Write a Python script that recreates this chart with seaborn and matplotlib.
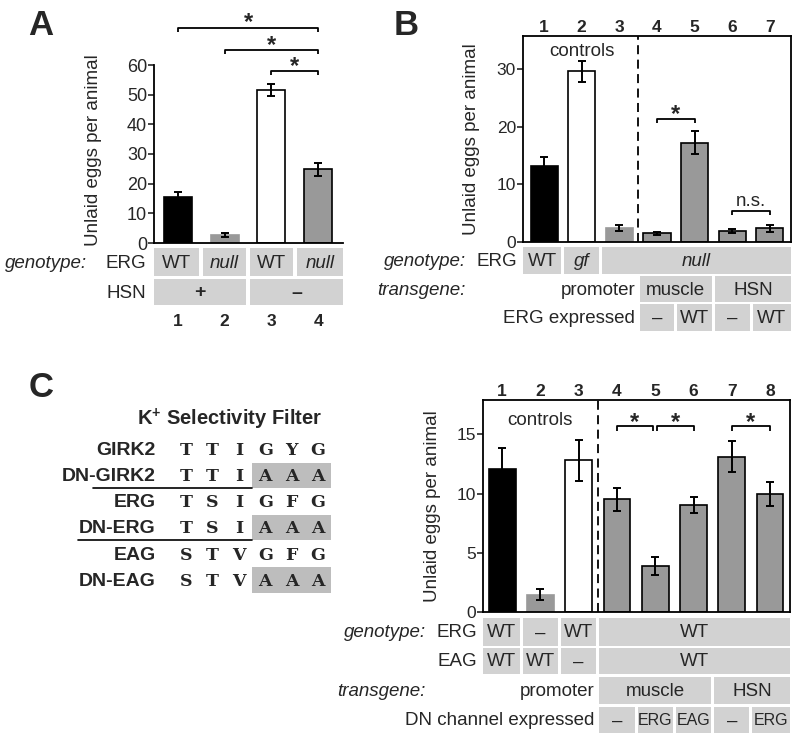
import matplotlib
matplotlib.use("Agg")
import matplotlib.pyplot as plt
import seaborn as sns
import numpy as np
import pandas as pd
from matplotlib.patches import Rectangle

# ---------------- data ----------------
A_labels = ["1", "2", "3", "4"]
A_values = [15.6, 2.7, 51.5, 24.8]
A_errors = [1.6, 0.6, 2.1, 2.3]
A_erg = [("WT", 0, 0), ("null", 1, 1), ("WT", 2, 2), ("null", 3, 3)]
A_hsn = [("+", 0, 1), ("–", 2, 3)]

B_labels = ["1", "2", "3", "4", "5", "6", "7"]
B_values = [13.2, 29.6, 2.4, 1.5, 17.2, 1.9, 2.4]
B_errors = [1.5, 1.8, 0.5, 0.3, 2.0, 0.3, 0.6]
B_erg = [("WT", 0, 0), ("gf", 1, 1), ("null", 2, 6)]
B_promoter = [("muscle", 3, 4), ("HSN", 5, 6)]
B_expressed = [("–", 3, 3), ("WT", 4, 4), ("–", 5, 5), ("WT", 6, 6)]

C_labels = ["1", "2", "3", "4", "5", "6", "7", "8"]
C_values = [12.05, 1.45, 12.8, 9.5, 3.9, 9.05, 13.1, 9.95]
C_errors = [1.8, 0.45, 1.75, 1.0, 0.75, 0.7, 1.3, 1.0]
C_erg = [("WT", 0, 0), ("–", 1, 1), ("WT", 2, 2), ("WT", 3, 7)]
C_eag = [("WT", 0, 0), ("WT", 1, 1), ("–", 2, 2), ("WT", 3, 7)]
C_promoter = [("muscle", 3, 5), ("HSN", 6, 7)]
C_dn = [("–", 3, 3), ("ERG", 4, 4), ("EAG", 5, 5), ("–", 6, 6), ("ERG", 7, 7)]

seq_names = ["GIRK2", "DN-GIRK2", "ERG", "DN-ERG", "EAG", "DN-EAG"]
seq_residues = ["TTIGYG", "TTIAAA", "TSIGFG", "TSIAAA", "STVGFG", "STVAAA"]

# ---------------- style ----------------
sns.set_style("ticks")
plt.rcParams["font.family"] = ["Liberation Sans", "DejaVu Sans"]
plt.rcParams["mathtext.fontset"] = "custom"
plt.rcParams["mathtext.rm"] = "Liberation Sans"
plt.rcParams["mathtext.bf"] = "Liberation Sans:bold"

BLACK, WHITE, GRAY, CELL = "#000000", "#ffffff", "#999999", "#d2d2d2"
W, H = 800, 741
fig = plt.figure(figsize=(W / 100, H / 100), dpi=100)
fig.patch.set_facecolor("white")


def add_ax(l, t, r, b):
    return fig.add_axes([l / W, 1 - b / H, (r - l) / W, (b - t) / H])


def bar_panel(ax, labels, values, errors, faces, edges, width, xlim, ylim, yticks, fs):
    df = pd.DataFrame({"cond": labels, "val": values})
    sns.barplot(data=df, x="cond", y="val", hue="cond",
                palette=dict(zip(labels, faces)), width=width, ax=ax,
                legend=False, linewidth=1.2, saturation=1, errorbar=None)
    for p, ec in zip(ax.patches, edges):
        p.set_edgecolor(ec)
    ax.errorbar(np.arange(len(values)), values, yerr=errors, fmt="none",
                ecolor="black", elinewidth=1.4, capsize=3, capthick=1.4, zorder=5)
    ax.set_xlim(*xlim)
    ax.set_ylim(*ylim)
    ax.set_yticks(yticks)
    ax.set_xlabel("")
    ax.set_ylabel("Unlaid eggs per animal", fontsize=13.5)
    ax.tick_params(axis="y", direction="out", length=4, width=1.2, labelsize=fs, pad=1)
    for s in ax.spines.values():
        s.set_linewidth(1.3)
        s.set_color("black")


def table_ax(l, t, r, b, xlim):
    tax = add_ax(l, t, r, b)
    tax.set_xlim(*xlim)
    tax.set_ylim(b, t)
    tax.axis("off")
    return tax


def cells(tax, items, n, y0, y1, fs=13.5, italic=(), bold=(), small=(), gap=0.04):
    xl, xr = tax.get_xlim()
    for text, i, j in items:
        x0 = xl if i == 0 else i - 0.5 + gap
        x1 = xr if j == n - 1 else j + 0.5 - gap
        tax.add_patch(Rectangle((x0, y0), x1 - x0, y1 - y0, fc=CELL, ec="none"))
        tax.text((x0 + x1) / 2, (y0 + y1) / 2 + 1, text, ha="center", va="center",
                 fontsize=(11.5 if text in small else fs),
                 style=("italic" if text in italic else "normal"),
                 fontweight=("bold" if text in bold else "normal"))


def px2x(l, r, xlim, px):
    return xlim[0] + (px - l) * (xlim[1] - xlim[0]) / (r - l)


def bracket(ax, x0, x1, y, drop, text, ty, fs=17, weight="bold"):
    ax.plot([x0, x0, x1, x1], [y - drop, y, y, y - drop], color="black",
            lw=1.3, clip_on=False, solid_capstyle="butt")
    ax.text((x0 + x1) / 2, ty, text, ha="center", va="baseline", fontsize=fs,
            fontweight=weight, clip_on=False)


# ---------------- Panel A ----------------
A_xlim = (-0.51, 3.53)
axA = add_ax(154, 65, 343, 243)
bar_panel(axA, A_labels, A_values, A_errors,
          [BLACK, GRAY, WHITE, GRAY], [BLACK, GRAY, BLACK, BLACK],
          0.6, A_xlim, (0, 60), [0, 10, 20, 30, 40, 50, 60], 13)
axA.spines["top"].set_visible(False)
axA.spines["right"].set_visible(False)
axA.set_xticks([])
axA.tick_params(axis="x", bottom=False)
axA.yaxis.set_label_coords(-0.275, 0.52)
bracket(axA, 0, 3, 72.5, 1.4, "*", 72.0)
bracket(axA, 1, 3, 65.0, 1.4, "*", 64.5)
bracket(axA, 2, 3, 58.0, 1.4, "*", 57.3)

tA = table_ax(154, 244, 343, 332, A_xlim)
cells(tA, A_erg, 4, 248, 276, fs=13.5, italic=("null",))
cells(tA, A_hsn, 4, 279, 305, fs=14, bold=("+", "–"))
for i, lab in enumerate(A_labels):
    tA.text(i, 321, lab, ha="center", va="center", fontsize=12.5, fontweight="bold")
tA.text(px2x(154, 343, A_xlim, 87), 263, "genotype:", ha="right", va="center",
        fontsize=13.5, style="italic")
tA.text(px2x(154, 343, A_xlim, 146), 263, "ERG", ha="right", va="center", fontsize=13.5)
tA.text(px2x(154, 343, A_xlim, 146), 293, "HSN", ha="right", va="center", fontsize=13.5)

# ---------------- Panel B ----------------
B_xlim = (-0.56, 6.56)
axB = add_ax(523, 36, 791, 242)
bar_panel(axB, B_labels, B_values, B_errors,
          [BLACK, WHITE, GRAY, GRAY, GRAY, GRAY, GRAY],
          [BLACK, BLACK, GRAY, BLACK, BLACK, BLACK, BLACK],
          0.72, B_xlim, (0, 35.7), [0, 10, 20, 30], 12.5)
axB.set_xticks(range(len(B_labels)), B_labels, fontweight="bold", fontsize=12.5)
axB.tick_params(axis="x", top=True, bottom=False, labeltop=True, labelbottom=False,
                length=0, pad=1)
axB.yaxis.set_label_coords(-0.16, 0.5)
axB.axvline(2.5, color="black", lw=1.3, ls=(0, (5, 3)))
axB.text(1, 32.2, "controls", ha="center", va="baseline", fontsize=13.5)
bracket(axB, 3, 4, 21.4, 0.8, "*", 20.9)
bracket(axB, 5, 6, 5.4, 0.7, "n.s.", 6.2, fs=13.5, weight="normal")

tB = table_ax(523, 244, 791, 336, B_xlim)
cells(tB, B_erg, 7, 247, 274, italic=("gf", "null"))
cells(tB, B_promoter, 7, 276, 302)
cells(tB, B_expressed, 7, 304, 331)
tB.text(2.5 - 0.08, 290, "promoter", ha="right", va="center", fontsize=13.5)
tB.text(2.5 - 0.08, 318.5, "ERG expressed", ha="right", va="center", fontsize=13.5)
tB.text(px2x(523, 791, B_xlim, 466), 261.5, "genotype:", ha="right", va="center",
        fontsize=13.5, style="italic")
tB.text(px2x(523, 791, B_xlim, 517), 261.5, "ERG", ha="right", va="center", fontsize=13.5)
tB.text(px2x(523, 791, B_xlim, 466), 290, "transgene:", ha="right", va="center",
        fontsize=13.5, style="italic")

# ---------------- Panel C chart ----------------
C_xlim = (-0.5, 7.52)
axC = add_ax(483, 400, 790, 612)
bar_panel(axC, C_labels, C_values, C_errors,
          [BLACK, GRAY, WHITE, GRAY, GRAY, GRAY, GRAY, GRAY],
          [BLACK, GRAY, BLACK, BLACK, BLACK, BLACK, BLACK, BLACK],
          0.7, C_xlim, (0, 17.9), [0, 5, 10, 15], 12.5)
axC.set_xticks(range(len(C_labels)), C_labels, fontweight="bold", fontsize=12.5)
axC.tick_params(axis="x", top=True, bottom=False, labeltop=True, labelbottom=False,
                length=0, pad=1)
axC.yaxis.set_label_coords(-0.137, 0.5)
axC.axvline(2.5, color="black", lw=1.3, ls=(0, (5, 3)))
axC.text(1, 15.8, "controls", ha="center", va="baseline", fontsize=13.5)
bracket(axC, 3, 3.93, 15.7, 0.45, "*", 15.45)
bracket(axC, 4.05, 5, 15.7, 0.45, "*", 15.45)
bracket(axC, 6, 7, 15.7, 0.45, "*", 15.45)

tC = table_ax(483, 614, 790, 736, C_xlim)
cells(tC, C_erg, 8, 618, 646)
cells(tC, C_eag, 8, 648, 674)
cells(tC, C_promoter, 8, 677, 704)
cells(tC, C_dn, 8, 707, 733, small=("ERG", "EAG"))
tC.text(2.5 - 0.08, 691.5, "promoter", ha="right", va="center", fontsize=13.5)
tC.text(2.5 - 0.08, 721, "DN channel expressed", ha="right", va="center", fontsize=13.5)
tC.text(px2x(483, 790, C_xlim, 426), 633, "genotype:", ha="right", va="center",
        fontsize=13.5, style="italic")
tC.text(px2x(483, 790, C_xlim, 477), 633, "ERG", ha="right", va="center", fontsize=13.5)
tC.text(px2x(483, 790, C_xlim, 477), 662, "EAG", ha="right", va="center", fontsize=13.5)
tC.text(px2x(483, 790, C_xlim, 426), 691.5, "transgene:", ha="right", va="center",
        fontsize=13.5, style="italic")

# ---------------- Panel C sequences ----------------
axS = add_ax(0, 370, 400, 600)
col_px, row_px = 26.4, 26.2
axS.set_xlim(-186 / col_px, (400 - 186) / col_px)
axS.set_ylim((600 - 449) / row_px, (370 - 449) / row_px)
axS.axis("off")
axS.text(1.67, -1.12, r"K$^{\mathbf{+}}$ Selectivity Filter", ha="center", va="center",
         fontsize=14.5, fontweight="bold")
wt = None
for r, (name, res) in enumerate(zip(seq_names, seq_residues)):
    axS.text(-1.14, r + 0.05, name, ha="right", va="center", fontsize=14, fontweight="bold")
    if not name.startswith("DN-"):
        wt = res
    else:
        diff = [k for k in range(len(res)) if res[k] != wt[k]]
        axS.add_patch(Rectangle((min(diff) - 0.5, r - 0.48), len(diff), 0.96,
                                fc="#bdbdbd", ec="none"))
    for k, ch in enumerate(res):
        axS.text(k, r + 0.05, ch, ha="center", va="center", fontsize=12.5,
                 family="DejaVu Serif", fontweight="bold")
axS.plot([(93 - 186) / col_px, 2.5], [1.48, 1.48], color="black", lw=1.2)
axS.plot([(78 - 186) / col_px, 2.5], [3.46, 3.46], color="black", lw=1.2)

# ---------------- panel letters ----------------
for letter, x, y in [("A", 28, 35), ("B", 394, 35), ("C", 29, 397)]:
    fig.text(x / W, 1 - y / H, letter, fontsize=25, fontweight="bold", va="baseline")

fig.savefig("out.png", dpi=100, facecolor="white")
